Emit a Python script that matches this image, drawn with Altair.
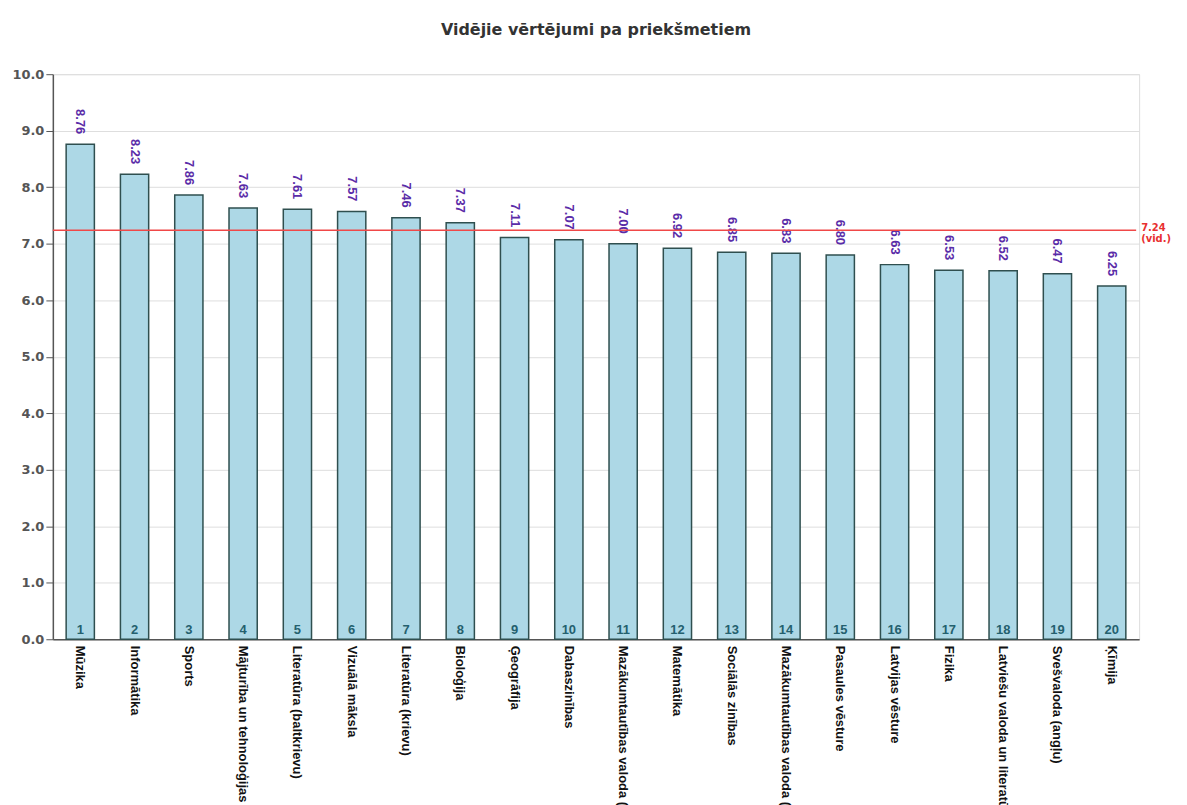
import altair as alt
import pandas as pd

subjects = [
    "Mūzika", "Informātika", "Sports", "Mājturība un tehnoloģijas",
    "Literatūra (baltkrievu)", "Vizuālā māksla", "Literatūra (krievu)",
    "Bioloģija", "Ģeogrāfija", "Dabaszinības",
    "Mazākumtautības valoda (krievu)", "Matemātika", "Sociālās zinības",
    "Mazākumtautības valoda (baltkrievu)", "Pasaules vēsture",
    "Latvijas vēsture", "Fizika", "Latviešu valoda un literatūra",
    "Svešvaloda (angļu)", "Ķīmija",
]
values = [8.76, 8.23, 7.86, 7.63, 7.61, 7.57, 7.46, 7.37, 7.11, 7.07,
          7.00, 6.92, 6.85, 6.83, 6.80, 6.63, 6.53, 6.52, 6.47, 6.25]
ranks = list(range(1, 21))
average = [7.24]
average_label = ["7.24\n(vid.)"]

df = pd.DataFrame({"subject": subjects, "value": values, "rank": [str(r) for r in ranks]})
df["label"] = [f"{v:.2f}" for v in values]
avg_df = pd.DataFrame({"avg": average, "label": average_label})

W, H = 1090, 567
NARROW = "Liberation Sans Narrow, Arial Narrow, Liberation Sans, Arial"

x = alt.X(
    "subject:N", sort=subjects, title=None,
    scale=alt.Scale(paddingInner=0.48, paddingOuter=0.245),
    axis=alt.Axis(labelAngle=90, labelAlign="left", labelBaseline="middle",
                  labelFont=NARROW, labelFontWeight="bold", labelFontSize=13,
                  labelColor="#111", labelPadding=6, labelLimit=400,
                  ticks=False, domainColor="#555", domainWidth=1.5),
)
y = alt.Y(
    "value:Q", title=None,
    scale=alt.Scale(domain=[0, 10], nice=False),
    axis=alt.Axis(values=[0, 1, 2, 3, 4, 5, 6, 7, 8, 9, 10], format=".1f",
                  labelFont="DejaVu Sans", labelFontWeight="bold", labelFontSize=13,
                  labelColor="#555", tickColor="#555", tickSize=7,
                  domainColor="#555", domainWidth=1.5, gridColor="#dedede",
                  labelPadding=2),
)

base = alt.Chart(df)

bars = base.mark_bar(color="#add8e6", stroke="#2f4f4f", strokeWidth=1.5).encode(x=x, y=y)

value_text = base.mark_text(
    angle=90, align="right", baseline="middle", dx=-10,
    font=NARROW, fontWeight="bold", fontSize=13, color="#5a2ca8",
).encode(x=alt.X("subject:N", sort=subjects), y=alt.Y("value:Q"), text="label:N")

rank_text = base.mark_text(
    baseline="bottom", dy=-2, font="Liberation Sans", fontWeight="bold",
    fontSize=13, color="#24606e",
).encode(x=alt.X("subject:N", sort=subjects), y=alt.datum(0), text="rank:N")

avg_rule = alt.Chart(avg_df).mark_rule(color="#f04848", strokeWidth=1.5).encode(
    y=alt.Y("avg:Q"), x=alt.value(0), x2=alt.value(W - 3)
)
avg_text = alt.Chart(avg_df).mark_text(
    align="left", baseline="top", dx=5, dy=-7, lineBreak="\n", lineHeight=11,
    font="DejaVu Sans", fontWeight="bold", fontSize=10, color="#e83030",
).encode(y=alt.Y("avg:Q"), x=alt.value(W - 3), text="label:N")

chart = alt.layer(bars, value_text, rank_text, avg_rule, avg_text).properties(
    width=W, height=H,
    title=alt.TitleParams("Vidējie vērtējumi pa priekšmetiem", font="DejaVu Sans",
                          fontSize=16, fontWeight="bold", color="#333",
                          anchor="middle", offset=30),
    autosize=alt.AutoSizeParams(type="none"),
    padding={"left": 45, "top": 65, "right": 40, "bottom": 200},
).configure_view(stroke=None).configure(background="white")

chart.save("out.html", embed_options={"renderer": "svg", "actions": False})
